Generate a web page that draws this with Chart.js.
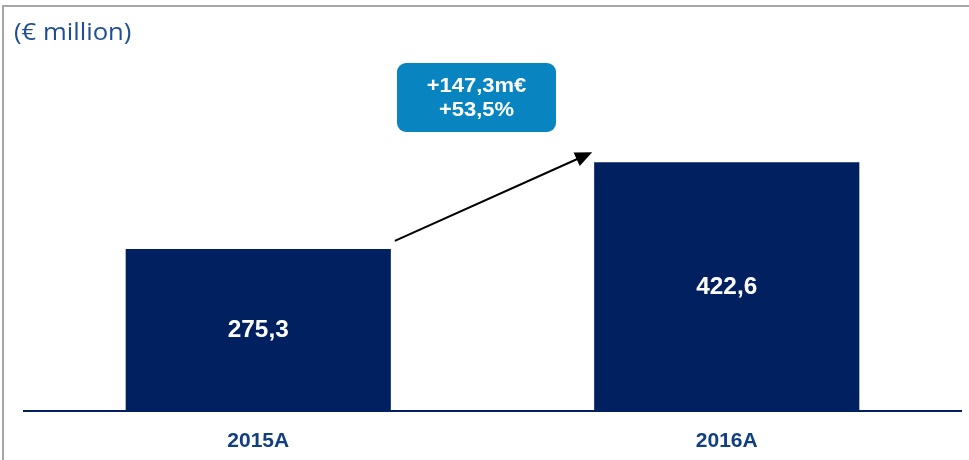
<!DOCTYPE html>
<html>
<head>
<meta charset="utf-8">
<script src="https://cdn.jsdelivr.net/npm/chart.js@4"></script>
<style>
  html, body { margin: 0; padding: 0; background: #fff; overflow: hidden; }
  #wrap { width: 969px; height: 460px; position: relative; overflow: hidden; }
</style>
</head>
<body>
<div id="wrap"><canvas id="myChart" width="969" height="480"></canvas></div>
<script>
// chart data
var years = ["2015A", "2016A"];
var revenue = [275.3, 422.6];
var unitLabel = "(€ million)";

var navy = "#002060";

function fmt(v, d) {
  return v.toFixed(d).replace(".", ",");
}

// text a little wider than the font, like the original slide
function wideText(c, txt, x, y, sx) {
  c.save();
  c.translate(x, y);
  c.scale(sx, 1);
  c.fillText(txt, 0, 0);
  c.restore();
}

// frame, title, value labels, arrow and growth callout
var extras = {
  id: "extras",
  beforeDraw: function(chart) {
    var c = chart.ctx;
    c.save();
    c.fillStyle = "#fff";
    c.fillRect(0, 0, chart.width, chart.height);
    c.strokeStyle = "#a6a6a6";
    c.lineWidth = 2;
    c.beginPath();
    c.moveTo(chart.width, 6);
    c.lineTo(3, 6);
    c.lineTo(3, chart.height);
    c.stroke();
    c.fillStyle = "#1f4e96";
    c.font = "24px 'Open Sans', sans-serif";
    c.textBaseline = "middle";
    c.textAlign = "left";
    wideText(c, unitLabel, 14, 33, 1.07);
    c.restore();
  },
  afterDatasetsDraw: function(chart) {
    var c = chart.ctx;
    var bars = chart.getDatasetMeta(0).data;
    c.save();
    // values inside bars
    c.fillStyle = "#fff";
    c.font = "bold 23px 'Liberation Sans', Arial, sans-serif";
    c.textAlign = "center";
    c.textBaseline = "middle";
    bars.forEach(function(b, i) {
      wideText(c, fmt(revenue[i], 1), b.x, (b.y + b.base) / 2 + 1, 1.06);
    });

    // arrow between the two bars
    var b1 = bars[0], b2 = bars[1];
    var x1 = b1.x + b1.width / 2 + 4, y1 = b1.y - 8;
    var x2 = b2.x - b2.width / 2 - 2, y2 = b2.y - 10;
    var ang = Math.atan2(y2 - y1, x2 - x1);
    c.strokeStyle = "#000";
    c.fillStyle = "#000";
    c.lineWidth = 2;
    c.beginPath();
    c.moveTo(x1, y1);
    c.lineTo(x2 - 12 * Math.cos(ang), y2 - 12 * Math.sin(ang));
    c.stroke();
    c.beginPath();
    c.moveTo(x2, y2);
    c.lineTo(x2 - 17 * Math.cos(ang) + 7.5 * Math.sin(ang), y2 - 17 * Math.sin(ang) - 7.5 * Math.cos(ang));
    c.lineTo(x2 - 17 * Math.cos(ang) - 7.5 * Math.sin(ang), y2 - 17 * Math.sin(ang) + 7.5 * Math.cos(ang));
    c.closePath();
    c.fill();

    // growth callout
    var diff = revenue[1] - revenue[0];
    var pct = diff / revenue[0] * 100;
    var bw = 159, bh = 69;
    var bx = (x1 + x2) / 2 - bw / 2 - 17;
    var by = 63;
    c.fillStyle = "#0884c0";
    c.beginPath();
    c.roundRect(bx, by, bw, bh, 9);
    c.fill();
    c.fillStyle = "#fff";
    c.font = "bold 20px 'Liberation Sans', Arial, sans-serif";
    wideText(c, "+" + fmt(diff, 1) + "m€", bx + bw / 2, by + 23, 1.1);
    wideText(c, "+" + fmt(pct, 1) + "%", bx + bw / 2, by + 47, 1.1);
    c.restore();
  }
};

var ctx = document.getElementById("myChart").getContext("2d");
var chart = new Chart(ctx, {
  type: "bar",
  data: {
    labels: years,
    datasets: [{
      data: revenue,
      backgroundColor: navy,
      borderWidth: 0,
      barPercentage: 0.566,
      categoryPercentage: 1
    }]
  },
  options: {
    responsive: false,
    animation: false,
    layout: { padding: { left: 24, right: 8, top: 58, bottom: 8 } },
    plugins: { legend: { display: false }, tooltip: { enabled: false } },
    scales: {
      y: { display: false, min: 0, max: 600 },
      x: {
        grid: { display: false, drawTicks: false },
        border: { display: true, color: navy, width: 2 },
        ticks: {
          color: "#123f80",
          padding: 18,
          font: { family: "'Liberation Sans', Arial, sans-serif", size: 21, weight: "bold", lineHeight: 1.2 }
        }
      }
    }
  },
  plugins: [extras]
});
</script>
</body>
</html>
